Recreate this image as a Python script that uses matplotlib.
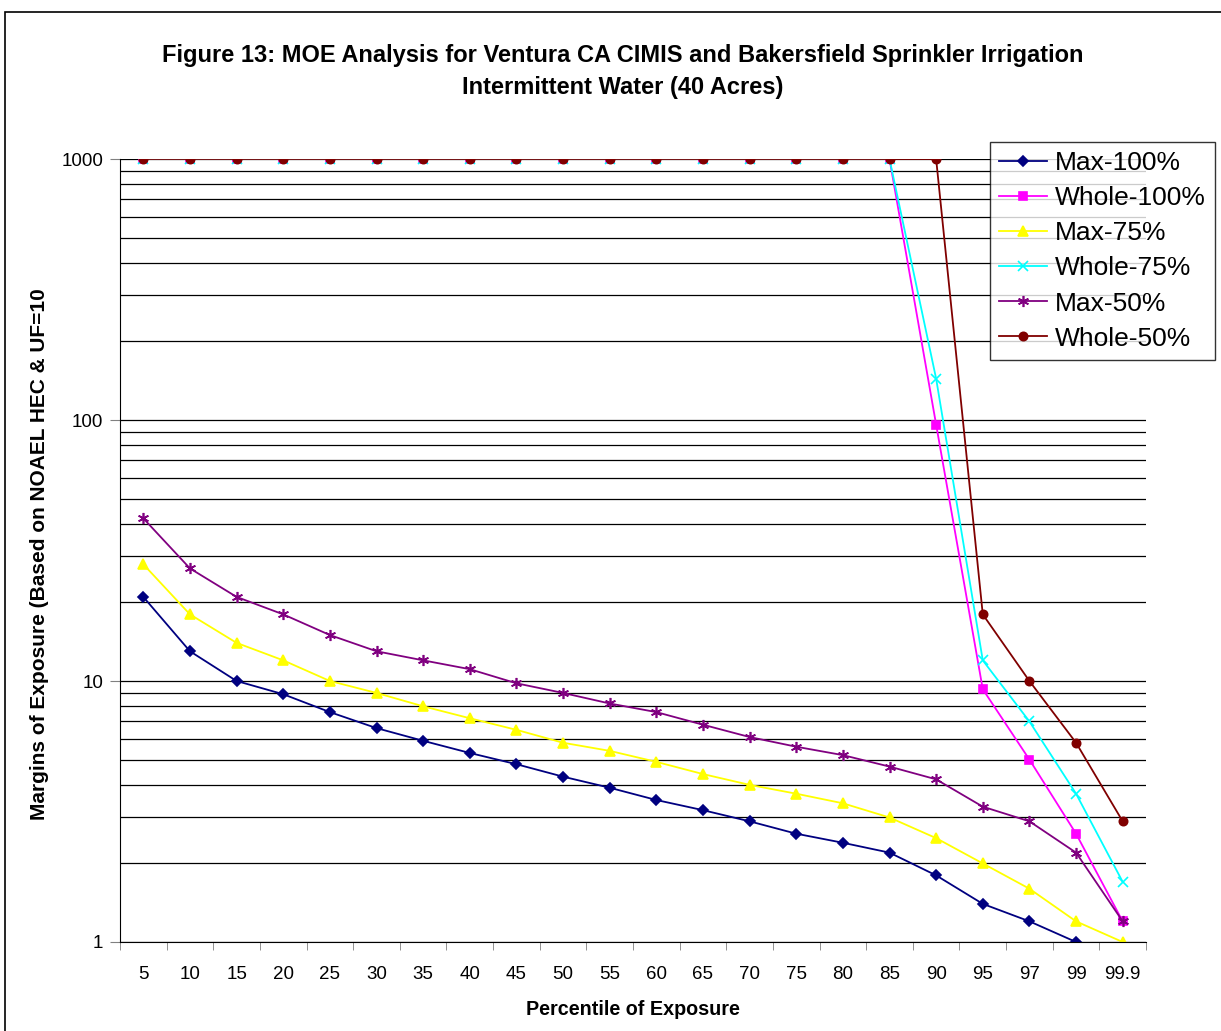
import matplotlib.pyplot as plt
import matplotlib.patches as mpatches
import numpy as np

plt.rcParams['font.family'] = ['Liberation Sans', 'DejaVu Sans']

percentiles = ['5', '10', '15', '20', '25', '30', '35', '40', '45', '50', '55',
               '60', '65', '70', '75', '80', '85', '90', '95', '97', '99', '99.9']

max_100 = [21, 13, 10, 8.9, 7.6, 6.6, 5.9, 5.3, 4.8, 4.3, 3.9, 3.5, 3.2, 2.9,
           2.6, 2.4, 2.2, 1.8, 1.4, 1.2, 1.0, 0.9]
whole_100 = [1000] * 17 + [96, 9.3, 5.0, 2.6, 1.2]
max_75 = [28, 18, 14, 12, 10, 9.0, 8.0, 7.2, 6.5, 5.8, 5.4, 4.9, 4.4, 4.0,
          3.7, 3.4, 3.0, 2.5, 2.0, 1.6, 1.2, 1.0]
whole_75 = [1000] * 17 + [144, 12, 7.0, 3.7, 1.7]
max_50 = [42, 27, 21, 18, 15, 13, 12, 11.1, 9.8, 9.0, 8.2, 7.6, 6.8, 6.1,
          5.6, 5.2, 4.7, 4.2, 3.3, 2.9, 2.2, 1.2]
whole_50 = [1000] * 18 + [18, 10, 5.8, 2.9]

series = [
    ('Max-100%', max_100, '#000080', 'D', 5),
    ('Whole-100%', whole_100, '#FF00FF', 's', 6),
    ('Max-75%', max_75, '#FFFF00', '^', 7),
    ('Whole-75%', whole_75, '#00FFFF', 'x', 7),
    ('Max-50%', max_50, '#800080', (6, 2, 0), 8),
    ('Whole-50%', whole_50, '#800000', 'o', 6),
]

fig = plt.figure(figsize=(12.21, 10.31), dpi=100)
ax = fig.add_axes([120 / 1221, 89 / 1031, 1026 / 1221, 783 / 1031])

x = np.arange(len(percentiles))
for name, vals, col, mk, ms in series:
    ax.plot(x, vals, color=col, marker=mk, markersize=ms, lw=1.3,
            label=name, markeredgewidth=1.2, clip_on=True)

ax.set_yscale('log')
ax.set_ylim(1, 1000)
ax.set_xlim(-0.5, len(percentiles) - 0.5)

ax.yaxis.grid(True, which='both', color='black', lw=0.9)
ax.set_axisbelow(True)
ax.set_yticks([1, 10, 100, 1000])
ax.set_yticklabels(['1', '10', '100', '1000'], fontsize=13.5)
ax.tick_params(axis='y', which='minor', length=0)
ax.tick_params(axis='y', which='major', length=7, color='#808080', pad=5)

ax.set_xticks(x)
ax.set_xticklabels(percentiles, fontsize=13.5)
ax.set_xticks(np.arange(-0.5, len(percentiles)), minor=True)
ax.tick_params(axis='x', which='major', length=0, pad=17.5)
ax.tick_params(axis='x', which='minor', length=6, color='#808080')

for s in ['top', 'right']:
    ax.spines[s].set_visible(False)
ax.spines['left'].set_color('black')
ax.spines['bottom'].set_color('black')

ax.set_xlabel('Percentile of Exposure', fontsize=14.2, fontweight='bold', labelpad=12)
ax.set_ylabel('Margins of Exposure (Based on NOAEL HEC & UF=10', fontsize=15,
              fontweight='bold')
ax.yaxis.set_label_coords(-0.0695, 0.4955)

fig.text(0.510, 0.946, 'Figure 13: MOE Analysis for Ventura CA CIMIS and Bakersfield Sprinkler Irrigation',
         ha='center', va='center', fontsize=17, fontweight='bold')
fig.text(0.510, 0.915, 'Intermittent Water (40 Acres)',
         ha='center', va='center', fontsize=17, fontweight='bold')

leg = fig.legend(loc='upper left', bbox_to_anchor=(990 / 1221, 1 - 142 / 1031),
                 borderaxespad=0, fontsize=19, frameon=True, fancybox=False,
                 edgecolor='black', borderpad=0.35, labelspacing=0.42,
                 handlelength=1.8, handletextpad=0.3)
leg.get_frame().set_linewidth(1.0)

border = mpatches.Rectangle((5 / 1221, -0.05), 1.1, 1.05 - 12 / 1031, transform=fig.transFigure,
                            fill=False, edgecolor='black', lw=1.2)
fig.patches.append(border)

fig.savefig('out.png', dpi=100)
